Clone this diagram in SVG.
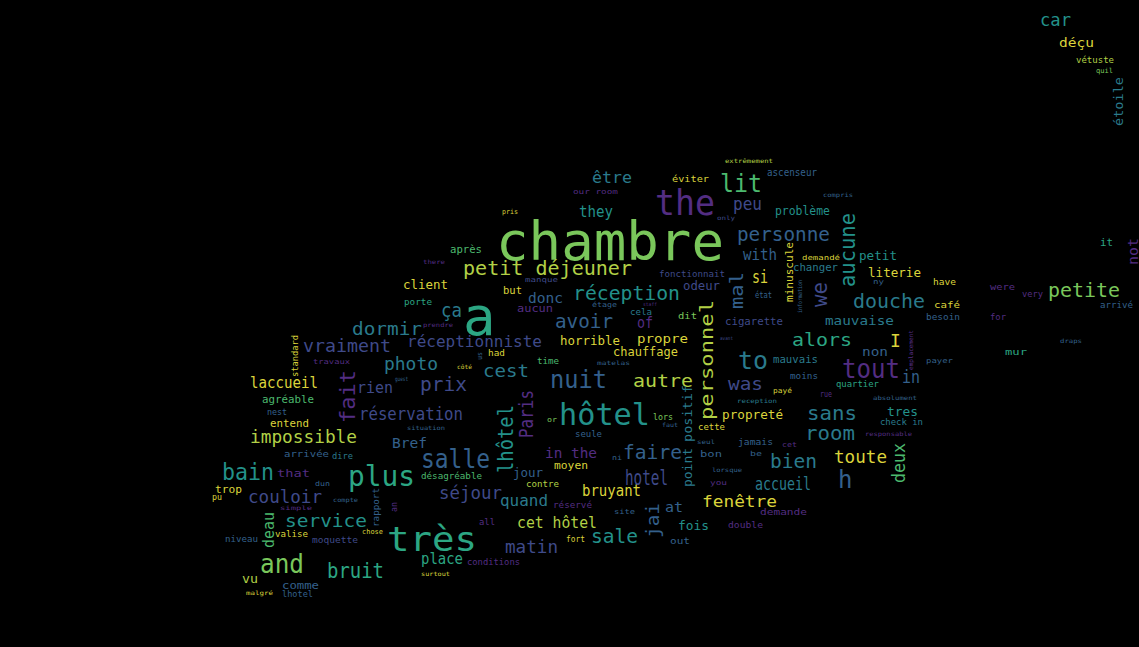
<svg xmlns="http://www.w3.org/2000/svg" width="1139" height="647" viewBox="0 0 1139 647">
<style>
text{font-family:"DejaVu Sans Mono","Liberation Mono",monospace;}
.v1{fill:#532d82}.v2{fill:#3f4a89}.v3{fill:#34608c}.v4{fill:#2a7a8c}.v5{fill:#23918a}
.v6{fill:#2ca683}.v7{fill:#4cb96e}.v8{fill:#7ac75b}.v9{fill:#b2d046}.v10{fill:#dbd43b}
</style>
<rect width="1139" height="647" fill="#000"/>
<g id="wordcloud">
<text class="v5" x="1040" y="26" font-size="18" textLength="31" lengthAdjust="spacingAndGlyphs">car</text>
<text class="v10" x="1059" y="47" font-size="13" textLength="35" lengthAdjust="spacingAndGlyphs">déçu</text>
<text class="v9" x="1076" y="63" font-size="8" textLength="38" lengthAdjust="spacingAndGlyphs">vétuste</text>
<text class="v8" x="1096" y="73" font-size="7" textLength="17" lengthAdjust="spacingAndGlyphs">quil</text>
<text class="v9" x="725" y="163" font-size="6" textLength="48" lengthAdjust="spacingAndGlyphs">extrêmement</text>
<text class="v4" x="592" y="183" font-size="16" textLength="40" lengthAdjust="spacingAndGlyphs">être</text>
<text class="v10" x="672" y="182" font-size="9" textLength="37" lengthAdjust="spacingAndGlyphs">éviter</text>
<text class="v7" x="720" y="192" font-size="25" textLength="42" lengthAdjust="spacingAndGlyphs">lit</text>
<text class="v3" x="767" y="176" font-size="10" textLength="50" lengthAdjust="spacingAndGlyphs">ascenseur</text>
<text class="v1" x="573" y="194" font-size="7" textLength="45" lengthAdjust="spacingAndGlyphs">our room</text>
<text class="v3" x="823" y="197" font-size="6" textLength="30" lengthAdjust="spacingAndGlyphs">compris</text>
<text class="v1" x="655" y="215" font-size="36" textLength="60" lengthAdjust="spacingAndGlyphs">the</text>
<text class="v2" x="733" y="210" font-size="17" textLength="29" lengthAdjust="spacingAndGlyphs">peu</text>
<text class="v5" x="775" y="215" font-size="13" textLength="55" lengthAdjust="spacingAndGlyphs">problème</text>
<text class="v10" x="502" y="214" font-size="7" textLength="16" lengthAdjust="spacingAndGlyphs">pris</text>
<text class="v5" x="579" y="217" font-size="15" textLength="34" lengthAdjust="spacingAndGlyphs">they</text>
<text class="v2" x="717" y="220" font-size="6" textLength="18" lengthAdjust="spacingAndGlyphs">only</text>
<text class="v8" x="496" y="260" font-size="53" textLength="228" lengthAdjust="spacingAndGlyphs">chambre</text>
<text class="v3" x="737" y="241" font-size="19" textLength="93" lengthAdjust="spacingAndGlyphs">personne</text>
<text class="v7" x="450" y="253" font-size="11" textLength="32" lengthAdjust="spacingAndGlyphs">après</text>
<text class="v3" x="743" y="260" font-size="15" textLength="34" lengthAdjust="spacingAndGlyphs">with</text>
<text class="v10" x="802" y="260" font-size="7" textLength="38" lengthAdjust="spacingAndGlyphs">demandé</text>
<text class="v5" x="859" y="260" font-size="13" textLength="38" lengthAdjust="spacingAndGlyphs">petit</text>
<text class="v1" x="423" y="264" font-size="6" textLength="22" lengthAdjust="spacingAndGlyphs">there</text>
<text class="v4" x="793" y="271" font-size="10" textLength="45" lengthAdjust="spacingAndGlyphs">changer</text>
<text class="v9" x="463" y="275" font-size="19" textLength="169" lengthAdjust="spacingAndGlyphs">petit déjeuner</text>
<text class="v2" x="659" y="277" font-size="9" textLength="66" lengthAdjust="spacingAndGlyphs">fonctionnait</text>
<text class="v10" x="868" y="277" font-size="12" textLength="53" lengthAdjust="spacingAndGlyphs">literie</text>
<text class="v2" x="525" y="282" font-size="7" textLength="33" lengthAdjust="spacingAndGlyphs">manque</text>
<text class="v10" x="752" y="283" font-size="17" textLength="16" lengthAdjust="spacingAndGlyphs">si</text>
<text class="v3" x="873" y="284" font-size="7" textLength="11" lengthAdjust="spacingAndGlyphs">ny</text>
<text class="v10" x="933" y="285" font-size="9" textLength="23" lengthAdjust="spacingAndGlyphs">have</text>
<text class="v10" x="403" y="289" font-size="13" textLength="45" lengthAdjust="spacingAndGlyphs">client</text>
<text class="v2" x="683" y="290" font-size="12" textLength="37" lengthAdjust="spacingAndGlyphs">odeur</text>
<text class="v1" x="990" y="290" font-size="8" textLength="25" lengthAdjust="spacingAndGlyphs">were</text>
<text class="v10" x="503" y="294" font-size="10" textLength="19" lengthAdjust="spacingAndGlyphs">but</text>
<text class="v8" x="1048" y="297" font-size="19" textLength="72" lengthAdjust="spacingAndGlyphs">petite</text>
<text class="v1" x="1022" y="297" font-size="8" textLength="21" lengthAdjust="spacingAndGlyphs">very</text>
<text class="v3" x="755" y="298" font-size="9" textLength="17" lengthAdjust="spacingAndGlyphs">état</text>
<text class="v5" x="573" y="300" font-size="19" textLength="107" lengthAdjust="spacingAndGlyphs">réception</text>
<text class="v3" x="528" y="303" font-size="14" textLength="35" lengthAdjust="spacingAndGlyphs">donc</text>
<text class="v6" x="404" y="305" font-size="8" textLength="28" lengthAdjust="spacingAndGlyphs">porte</text>
<text class="v1" x="643" y="306" font-size="5" textLength="14" lengthAdjust="spacingAndGlyphs">staff</text>
<text class="v3" x="592" y="307" font-size="7" textLength="25" lengthAdjust="spacingAndGlyphs">étage</text>
<text class="v4" x="853" y="308" font-size="19" textLength="72" lengthAdjust="spacingAndGlyphs">douche</text>
<text class="v10" x="934" y="308" font-size="9" textLength="26" lengthAdjust="spacingAndGlyphs">café</text>
<text class="v3" x="1100" y="308" font-size="8" textLength="33" lengthAdjust="spacingAndGlyphs">arrivé</text>
<text class="v1" x="517" y="312" font-size="11" textLength="36" lengthAdjust="spacingAndGlyphs">aucun</text>
<text class="v4" x="630" y="315" font-size="9" textLength="22" lengthAdjust="spacingAndGlyphs">cela</text>
<text class="v4" x="441" y="317" font-size="19" textLength="21" lengthAdjust="spacingAndGlyphs">ça</text>
<text class="v8" x="678" y="319" font-size="9" textLength="19" lengthAdjust="spacingAndGlyphs">dit</text>
<text class="v3" x="926" y="320" font-size="9" textLength="34" lengthAdjust="spacingAndGlyphs">besoin</text>
<text class="v1" x="990" y="320" font-size="9" textLength="16" lengthAdjust="spacingAndGlyphs">for</text>
<text class="v6" x="463" y="335" font-size="54">a</text>
<text class="v4" x="825" y="325" font-size="13" textLength="69" lengthAdjust="spacingAndGlyphs">mauvaise</text>
<text class="v2" x="725" y="325" font-size="11" textLength="58" lengthAdjust="spacingAndGlyphs">cigarette</text>
<text class="v1" x="423" y="327" font-size="6" textLength="30" lengthAdjust="spacingAndGlyphs">prendre</text>
<text class="v3" x="555" y="328" font-size="19" textLength="58" lengthAdjust="spacingAndGlyphs">avoir</text>
<text class="v1" x="637" y="328" font-size="16" textLength="16" lengthAdjust="spacingAndGlyphs">of</text>
<text class="v4" x="352" y="335" font-size="18" textLength="70" lengthAdjust="spacingAndGlyphs">dormir</text>
<text class="v2" x="720" y="340" font-size="5" textLength="13" lengthAdjust="spacingAndGlyphs">avant</text>
<text class="v3" x="1060" y="343" font-size="6" textLength="22" lengthAdjust="spacingAndGlyphs">draps</text>
<text class="v10" x="637" y="343" font-size="13" textLength="51" lengthAdjust="spacingAndGlyphs">propre</text>
<text class="v10" x="560" y="345" font-size="12" textLength="60" lengthAdjust="spacingAndGlyphs">horrible</text>
<text class="v6" x="792" y="346" font-size="18" textLength="60" lengthAdjust="spacingAndGlyphs">alors</text>
<text class="v2" x="407" y="347" font-size="16" textLength="135" lengthAdjust="spacingAndGlyphs">réceptionniste</text>
<text class="v10" x="890" y="347" font-size="18">I</text>
<text class="v2" x="303" y="352" font-size="18" textLength="88" lengthAdjust="spacingAndGlyphs">vraiment</text>
<text class="v10" x="613" y="356" font-size="13" textLength="65" lengthAdjust="spacingAndGlyphs">chauffage</text>
<text class="v10" x="488" y="356" font-size="9" textLength="17" lengthAdjust="spacingAndGlyphs">had</text>
<text class="v3" x="862" y="356" font-size="13" textLength="26" lengthAdjust="spacingAndGlyphs">non</text>
<text class="v6" x="1005" y="355" font-size="9" textLength="22" lengthAdjust="spacingAndGlyphs">mur</text>
<text class="v3" x="926" y="363" font-size="7" textLength="27" lengthAdjust="spacingAndGlyphs">payer</text>
<text class="v1" x="313" y="364" font-size="7" textLength="37" lengthAdjust="spacingAndGlyphs">travaux</text>
<text class="v7" x="537" y="364" font-size="8" textLength="22" lengthAdjust="spacingAndGlyphs">time</text>
<text class="v3" x="597" y="365" font-size="6" textLength="33" lengthAdjust="spacingAndGlyphs">matelas</text>
<text class="v4" x="773" y="363" font-size="10" textLength="45" lengthAdjust="spacingAndGlyphs">mauvais</text>
<text class="v4" x="738" y="369" font-size="25" textLength="30" lengthAdjust="spacingAndGlyphs">to</text>
<text class="v10" x="457" y="369" font-size="6" textLength="15" lengthAdjust="spacingAndGlyphs">côté</text>
<text class="v4" x="384" y="370" font-size="18" textLength="54" lengthAdjust="spacingAndGlyphs">photo</text>
<text class="v4" x="483" y="377" font-size="18" textLength="46" lengthAdjust="spacingAndGlyphs">cest</text>
<text class="v1" x="842" y="378" font-size="26" textLength="58" lengthAdjust="spacingAndGlyphs">tout</text>
<text class="v3" x="790" y="379" font-size="8" textLength="28" lengthAdjust="spacingAndGlyphs">moins</text>
<text class="v3" x="395" y="381" font-size="6" textLength="13" lengthAdjust="spacingAndGlyphs">guest</text>
<text class="v3" x="902" y="383" font-size="17" textLength="18" lengthAdjust="spacingAndGlyphs">in</text>
<text class="v9" x="633" y="387" font-size="18" textLength="60" lengthAdjust="spacingAndGlyphs">autre</text>
<text class="v6" x="836" y="387" font-size="9" textLength="43" lengthAdjust="spacingAndGlyphs">quartier</text>
<text class="v10" x="250" y="388" font-size="15" textLength="68" lengthAdjust="spacingAndGlyphs">laccueil</text>
<text class="v3" x="550" y="388" font-size="25" textLength="57" lengthAdjust="spacingAndGlyphs">nuit</text>
<text class="v2" x="728" y="390" font-size="18" textLength="35" lengthAdjust="spacingAndGlyphs">was</text>
<text class="v2" x="420" y="391" font-size="19" textLength="47" lengthAdjust="spacingAndGlyphs">prix</text>
<text class="v2" x="357" y="393" font-size="15" textLength="36" lengthAdjust="spacingAndGlyphs">rien</text>
<text class="v10" x="773" y="393" font-size="7" textLength="19" lengthAdjust="spacingAndGlyphs">payé</text>
<text class="v1" x="820" y="397" font-size="8" textLength="12" lengthAdjust="spacingAndGlyphs">rue</text>
<text class="v3" x="873" y="400" font-size="6" textLength="44" lengthAdjust="spacingAndGlyphs">absolument</text>
<text class="v7" x="262" y="403" font-size="10" textLength="52" lengthAdjust="spacingAndGlyphs">agréable</text>
<text class="v4" x="737" y="403" font-size="6" textLength="40" lengthAdjust="spacingAndGlyphs">reception</text>
<text class="v3" x="267" y="415" font-size="9" textLength="20" lengthAdjust="spacingAndGlyphs">nest</text>
<text class="v5" x="887" y="416" font-size="12" textLength="31" lengthAdjust="spacingAndGlyphs">tres</text>
<text class="v2" x="359" y="420" font-size="18" textLength="104" lengthAdjust="spacingAndGlyphs">réservation</text>
<text class="v4" x="807" y="420" font-size="20" textLength="50" lengthAdjust="spacingAndGlyphs">sans</text>
<text class="v10" x="722" y="419" font-size="12" textLength="61" lengthAdjust="spacingAndGlyphs">propreté</text>
<text class="v8" x="653" y="420" font-size="8" textLength="20" lengthAdjust="spacingAndGlyphs">lors</text>
<text class="v8" x="547" y="422" font-size="7" textLength="10" lengthAdjust="spacingAndGlyphs">or</text>
<text class="v5" x="559" y="425" font-size="30" textLength="91" lengthAdjust="spacingAndGlyphs">hôtel</text>
<text class="v4" x="880" y="425" font-size="9" textLength="43" lengthAdjust="spacingAndGlyphs">check in</text>
<text class="v10" x="270" y="427" font-size="10" textLength="39" lengthAdjust="spacingAndGlyphs">entend</text>
<text class="v3" x="662" y="427" font-size="6" textLength="16" lengthAdjust="spacingAndGlyphs">faut</text>
<text class="v10" x="698" y="430" font-size="8" textLength="27" lengthAdjust="spacingAndGlyphs">cette</text>
<text class="v3" x="407" y="430" font-size="6" textLength="38" lengthAdjust="spacingAndGlyphs">situation</text>
<text class="v1" x="865" y="436" font-size="6" textLength="47" lengthAdjust="spacingAndGlyphs">responsable</text>
<text class="v3" x="575" y="437" font-size="8" textLength="27" lengthAdjust="spacingAndGlyphs">seule</text>
<text class="v4" x="805" y="440" font-size="19" textLength="50" lengthAdjust="spacingAndGlyphs">room</text>
<text class="v9" x="250" y="443" font-size="17" textLength="107" lengthAdjust="spacingAndGlyphs">impossible</text>
<text class="v3" x="697" y="444" font-size="6" textLength="18" lengthAdjust="spacingAndGlyphs">seul</text>
<text class="v3" x="738" y="445" font-size="9" textLength="35" lengthAdjust="spacingAndGlyphs">jamais</text>
<text class="v1" x="782" y="447" font-size="7" textLength="15" lengthAdjust="spacingAndGlyphs">cet</text>
<text class="v3" x="392" y="448" font-size="14" textLength="35" lengthAdjust="spacingAndGlyphs">Bref</text>
<text class="v3" x="750" y="456" font-size="7" textLength="12" lengthAdjust="spacingAndGlyphs">be</text>
<text class="v3" x="700" y="457" font-size="9" textLength="22" lengthAdjust="spacingAndGlyphs">bon</text>
<text class="v3" x="284" y="457" font-size="9" textLength="45" lengthAdjust="spacingAndGlyphs">arrivée</text>
<text class="v1" x="545" y="458" font-size="14" textLength="52" lengthAdjust="spacingAndGlyphs">in the</text>
<text class="v4" x="332" y="459" font-size="8" textLength="21" lengthAdjust="spacingAndGlyphs">dire</text>
<text class="v3" x="623" y="459" font-size="20" textLength="59" lengthAdjust="spacingAndGlyphs">faire</text>
<text class="v3" x="612" y="460" font-size="7" textLength="10" lengthAdjust="spacingAndGlyphs">ni</text>
<text class="v10" x="834" y="463" font-size="17" textLength="53" lengthAdjust="spacingAndGlyphs">toute</text>
<text class="v3" x="421" y="468" font-size="26" textLength="69" lengthAdjust="spacingAndGlyphs">salle</text>
<text class="v4" x="770" y="468" font-size="20" textLength="47" lengthAdjust="spacingAndGlyphs">bien</text>
<text class="v10" x="554" y="469" font-size="10" textLength="34" lengthAdjust="spacingAndGlyphs">moyen</text>
<text class="v3" x="712" y="472" font-size="6" textLength="30" lengthAdjust="spacingAndGlyphs">lorsque</text>
<text class="v3" x="513" y="477" font-size="13" textLength="30" lengthAdjust="spacingAndGlyphs">jour</text>
<text class="v1" x="277" y="477" font-size="11" textLength="33" lengthAdjust="spacingAndGlyphs">that</text>
<text class="v7" x="421" y="479" font-size="8" textLength="61" lengthAdjust="spacingAndGlyphs">désagréable</text>
<text class="v5" x="222" y="480" font-size="23" textLength="52" lengthAdjust="spacingAndGlyphs">bain</text>
<text class="v6" x="348" y="486" font-size="28" textLength="67" lengthAdjust="spacingAndGlyphs">plus</text>
<text class="v2" x="625" y="485" font-size="22" textLength="43" lengthAdjust="spacingAndGlyphs">hotel</text>
<text class="v1" x="710" y="485" font-size="7" textLength="17" lengthAdjust="spacingAndGlyphs">you</text>
<text class="v3" x="315" y="486" font-size="7" textLength="15" lengthAdjust="spacingAndGlyphs">dun</text>
<text class="v9" x="526" y="487" font-size="9" textLength="33" lengthAdjust="spacingAndGlyphs">contre</text>
<text class="v3" x="838" y="488" font-size="24">h</text>
<text class="v4" x="755" y="490" font-size="17" textLength="56" lengthAdjust="spacingAndGlyphs">accueil</text>
<text class="v10" x="215" y="493" font-size="10" textLength="27" lengthAdjust="spacingAndGlyphs">trop</text>
<text class="v10" x="582" y="496" font-size="15" textLength="59" lengthAdjust="spacingAndGlyphs">bruyant</text>
<text class="v2" x="439" y="499" font-size="18" textLength="63" lengthAdjust="spacingAndGlyphs">séjour</text>
<text class="v10" x="212" y="500" font-size="8" textLength="10" lengthAdjust="spacingAndGlyphs">pu</text>
<text class="v3" x="333" y="502" font-size="6" textLength="25" lengthAdjust="spacingAndGlyphs">compte</text>
<text class="v2" x="248" y="503" font-size="17" textLength="74" lengthAdjust="spacingAndGlyphs">couloir</text>
<text class="v4" x="500" y="506" font-size="16" textLength="48" lengthAdjust="spacingAndGlyphs">quand</text>
<text class="v10" x="702" y="507" font-size="15" textLength="75" lengthAdjust="spacingAndGlyphs">fenêtre</text>
<text class="v1" x="553" y="508" font-size="8" textLength="39" lengthAdjust="spacingAndGlyphs">réservé</text>
<text class="v1" x="280" y="510" font-size="6" textLength="32" lengthAdjust="spacingAndGlyphs">simple</text>
<text class="v3" x="665" y="512" font-size="14" textLength="18" lengthAdjust="spacingAndGlyphs">at</text>
<text class="v3" x="614" y="514" font-size="7" textLength="21" lengthAdjust="spacingAndGlyphs">site</text>
<text class="v1" x="760" y="515" font-size="8" textLength="47" lengthAdjust="spacingAndGlyphs">demande</text>
<text class="v1" x="479" y="525" font-size="8" textLength="16" lengthAdjust="spacingAndGlyphs">all</text>
<text class="v5" x="285" y="527" font-size="17" textLength="82" lengthAdjust="spacingAndGlyphs">service</text>
<text class="v9" x="517" y="528" font-size="15" textLength="80" lengthAdjust="spacingAndGlyphs">cet hôtel</text>
<text class="v1" x="728" y="528" font-size="8" textLength="35" lengthAdjust="spacingAndGlyphs">double</text>
<text class="v5" x="678" y="530" font-size="12" textLength="31" lengthAdjust="spacingAndGlyphs">fois</text>
<text class="v10" x="362" y="534" font-size="7" textLength="21" lengthAdjust="spacingAndGlyphs">chose</text>
<text class="v10" x="275" y="537" font-size="9" textLength="33" lengthAdjust="spacingAndGlyphs">valise</text>
<text class="v3" x="225" y="542" font-size="9" textLength="33" lengthAdjust="spacingAndGlyphs">niveau</text>
<text class="v2" x="312" y="543" font-size="9" textLength="46" lengthAdjust="spacingAndGlyphs">moquette</text>
<text class="v5" x="591" y="543" font-size="20" textLength="47" lengthAdjust="spacingAndGlyphs">sale</text>
<text class="v10" x="566" y="542" font-size="8" textLength="19" lengthAdjust="spacingAndGlyphs">fort</text>
<text class="v3" x="670" y="544" font-size="9" textLength="20" lengthAdjust="spacingAndGlyphs">out</text>
<text class="v6" x="387" y="551" font-size="33" textLength="90" lengthAdjust="spacingAndGlyphs">très</text>
<text class="v2" x="505" y="553" font-size="18" textLength="53" lengthAdjust="spacingAndGlyphs">matin</text>
<text class="v6" x="421" y="564" font-size="15" textLength="42" lengthAdjust="spacingAndGlyphs">place</text>
<text class="v1" x="467" y="565" font-size="9" textLength="53" lengthAdjust="spacingAndGlyphs">conditions</text>
<text class="v8" x="260" y="573" font-size="26" textLength="44" lengthAdjust="spacingAndGlyphs">and</text>
<text class="v10" x="421" y="576" font-size="6" textLength="29" lengthAdjust="spacingAndGlyphs">surtout</text>
<text class="v6" x="327" y="578" font-size="22" textLength="57" lengthAdjust="spacingAndGlyphs">bruit</text>
<text class="v9" x="242" y="583" font-size="13" textLength="16" lengthAdjust="spacingAndGlyphs">vu</text>
<text class="v3" x="282" y="589" font-size="10" textLength="37" lengthAdjust="spacingAndGlyphs">comme</text>
<text class="v10" x="246" y="595" font-size="6" textLength="27" lengthAdjust="spacingAndGlyphs">malgré</text>
<text class="v3" x="282" y="597" font-size="9" textLength="31" lengthAdjust="spacingAndGlyphs">lhotel</text>
<text class="v6" x="1100" y="246" font-size="10" textLength="13" lengthAdjust="spacingAndGlyphs">it</text>
<text class="v4" transform="translate(1123,126) rotate(-90)" font-size="13" textLength="49" lengthAdjust="spacingAndGlyphs">étoile</text>
<text class="v10" transform="translate(298,377) rotate(-90)" font-size="9" textLength="42" lengthAdjust="spacingAndGlyphs">standard</text>
<text class="v1" transform="translate(355,423) rotate(-90)" font-size="22" textLength="53" lengthAdjust="spacingAndGlyphs">fait</text>
<text class="v5" transform="translate(513,473) rotate(-90)" font-size="21" textLength="68" lengthAdjust="spacingAndGlyphs">lhôtel</text>
<text class="v1" transform="translate(533,438) rotate(-90)" font-size="19" textLength="48" lengthAdjust="spacingAndGlyphs">Paris</text>
<text class="v9" transform="translate(713,420) rotate(-90)" font-size="18" textLength="120" lengthAdjust="spacingAndGlyphs">personnel</text>
<text class="v5" transform="translate(855,287) rotate(-90)" font-size="22" textLength="74" lengthAdjust="spacingAndGlyphs">aucune</text>
<text class="v10" transform="translate(793,302) rotate(-90)" font-size="11" textLength="60" lengthAdjust="spacingAndGlyphs">minuscule</text>
<text class="v3" transform="translate(743,309) rotate(-90)" font-size="18" textLength="37" lengthAdjust="spacingAndGlyphs">mal</text>
<text class="v2" transform="translate(827,307) rotate(-90)" font-size="22" textLength="25" lengthAdjust="spacingAndGlyphs">we</text>
<text class="v3" transform="translate(802,313) rotate(-90)" font-size="6" textLength="33" lengthAdjust="spacingAndGlyphs">information</text>
<text class="v4" transform="translate(692,442) rotate(-90)" font-size="12" textLength="57" lengthAdjust="spacingAndGlyphs">positif</text>
<text class="v4" transform="translate(692,487) rotate(-90)" font-size="12" textLength="39" lengthAdjust="spacingAndGlyphs">point</text>
<text class="v7" transform="translate(274,548) rotate(-90)" font-size="15" textLength="36" lengthAdjust="spacingAndGlyphs">deau</text>
<text class="v3" transform="translate(379,527) rotate(-90)" font-size="9" textLength="39" lengthAdjust="spacingAndGlyphs">rapport</text>
<text class="v1" transform="translate(397,512) rotate(-90)" font-size="8" textLength="10" lengthAdjust="spacingAndGlyphs">an</text>
<text class="v3" transform="translate(482,360) rotate(-90)" font-size="7" textLength="8" lengthAdjust="spacingAndGlyphs">us</text>
<text class="v3" transform="translate(659,538) rotate(-90)" font-size="18" textLength="35" lengthAdjust="spacingAndGlyphs">jai</text>
<text class="v7" transform="translate(905,483) rotate(-90)" font-size="17" textLength="40" lengthAdjust="spacingAndGlyphs">deux</text>
<text class="v1" transform="translate(913,370) rotate(-90)" font-size="6" textLength="40" lengthAdjust="spacingAndGlyphs">emplacement</text>
<text class="v1" transform="translate(1138,265) rotate(-90)" font-size="14" textLength="27" lengthAdjust="spacingAndGlyphs">not</text>
</g>
</svg>
